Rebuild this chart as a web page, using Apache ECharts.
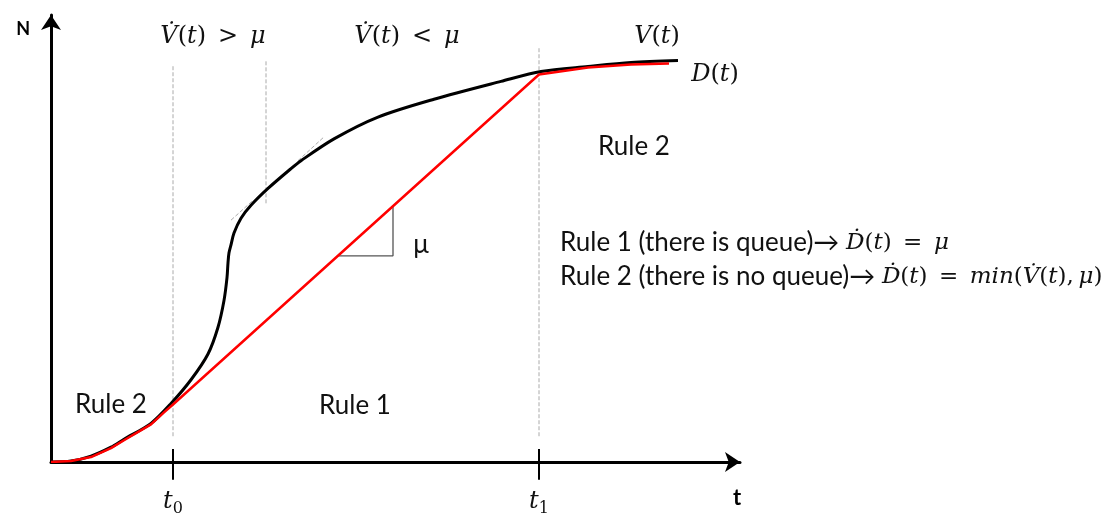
<!DOCTYPE html>
<html><head><meta charset="utf-8">
<script src="https://cdn.jsdelivr.net/npm/echarts@6/dist/echarts.min.js"></script>
<style>html,body{margin:0;padding:0;background:#fff}#c{width:1108px;height:517px}</style>
</head><body><div id="c"></div>
<script>
// ---- data (x = time units, y = cumulative count N) ----
var arrivalsV = [[0,0],[20,1],[40,6],[60,15],[73,23],[100,39],[120,59],[140,83],[157,109],[167,136],[173,163],[176,186],[177,201],[178,211],[180,219],[183,231],[190,246],[200,259],[217,276],[240,296],[250,304],[283,326],[327,348],[383,366],[450,384],[490,394],[537,399],[580,403],[627,405]];
var departuresD = [[0,0],[20,1],[40,5],[60,14],[73,22],[100,38],[113,50],[122,58],[488,391],[537,398],[580,401],[618,402]];
var slopeTriangle = [[287,208],[342,208],[342,258]];
var tangent1 = [[180,244],[202,264]];
var tangent2 = [[247,304],[273,328]];
var tickValues = [122, 488];
var tickLabels = [['t','0'],['t','1']];
var guide1 = [[122,26],[122,401]];
var guide2 = [[215,261],[215,406]];
var guide3 = [[488,26],[488,419]];
var tick0 = [[122,-18],[122,13]];
var tick1 = [[488,-18],[488,13]];
var axisNames = ['t','N'];
var headerTexts = ['V\u0307(t)\u2002>\u2002μ', 'V\u0307(t)\u2002<\u2002μ'];
var curveLabels = ['V(t)', 'D(t)'];
var regionLabels = ['Rule 2', 'Rule 2', 'Rule 1', 'μ'];
var ruleTexts = [['Rule 1 (there is queue)\u2192 ', 'D\u0307(t)\u2002=\u2002μ'], ['Rule 2 (there is no queue)\u2192 ', 'D\u0307(t)\u2002=\u2002min(V\u0307(t),\u2009μ)']];

var SANS = 'Lato, "Open Sans", sans-serif';
var SERIF = '"DejaVu Serif", "Liberation Serif", serif';
function math(s){
  var out=''; var re=/([A-Za-zμ\u0307]+)|([^A-Za-zμ\u0307]+)/g; var m;
  while((m=re.exec(s))){ if(m[1]) out+='{mi|'+m[1]+'}'; else out+='{mr|'+m[2]+'}'; }
  return out;
}
function mathRich(size,color,sans){
  return {mi:{fontFamily:SERIF,fontStyle:'italic',fontSize:size,color:color},
          mr:{fontFamily:SERIF,fontSize:size,color:color},
          s:{fontFamily:SANS,fontSize:sans||26,color:'#111'}};
}
function txt(text,x,y,opt){
  opt=opt||{};
  return {type:'text',x:x,y:y,z:10,style:{text:text,align:opt.align||'center',verticalAlign:'middle',
    fontFamily:opt.font||SANS,fontSize:opt.size||26,fill:opt.color||'#111',rich:opt.rich}};
}
var gl = {type:'dashed',color:'#aaa',width:1};
function seg(data,style){return {type:'line',data:data,symbol:'none',clip:false,silent:true,lineStyle:style,z:1};}

var chart = echarts.init(document.getElementById('c'));
chart.setOption({
  animation:false,
  grid:{left:51,top:15,width:689,height:451,containLabel:false},
  xAxis:{type:'value',min:0,max:689,
    name:axisNames[0],nameLocation:'end',nameGap:-7,
    nameTextStyle:{fontFamily:SANS,fontWeight:'bold',fontSize:22,color:'#000',verticalAlign:'top',padding:[25,0,0,0]},
    axisLine:{show:true,lineStyle:{color:'#000',width:3},symbol:['none','arrow'],symbolSize:[15,15]},
    axisTick:{show:false},splitLine:{show:false},
    axisLabel:{customValues:tickValues,margin:25,
      formatter:function(v){var i=tickValues.indexOf(v);return i<0?'':'{t|'+tickLabels[i][0]+'}{s|'+tickLabels[i][1]+'}';},
      rich:{t:{fontFamily:SERIF,fontStyle:'italic',fontSize:24,color:'#111'},
            s:{fontFamily:SERIF,fontSize:16,color:'#111',verticalAlign:'bottom',padding:[14,0,0,0]}}}
  },
  yAxis:{type:'value',min:0,max:451,
    name:axisNames[1],nameLocation:'end',nameGap:-23,
    nameTextStyle:{fontFamily:SANS,fontWeight:'bold',fontSize:18,color:'#000',align:'right',padding:[0,21,0,0]},
    axisLine:{show:true,lineStyle:{color:'#000',width:3},symbol:['none','arrow'],symbolSize:[15,15]},
    axisTick:{show:false},splitLine:{show:false},axisLabel:{show:false}
  },
  series:[
    seg(guide1,gl),seg(guide2,gl),seg(guide3,gl),
    seg(tangent1,gl),seg(tangent2,gl),
    seg(tick0,{color:'#000',width:2}),seg(tick1,{color:'#000',width:2}),
    seg(slopeTriangle,{color:'#555',width:1.3}),
    {type:'line',data:arrivalsV,symbol:'none',smooth:0.3,lineStyle:{color:'#000',width:3},z:3},
    {type:'line',data:departuresD,symbol:'none',smooth:false,lineStyle:{color:'#ff0000',width:2.5,join:'round'},z:4}
  ],
  graphic:[
    txt(math(headerTexts[0]),213,37,{rich:mathRich(24,'#111')}),
    txt(math(headerTexts[1]),407,37,{rich:mathRich(24,'#111')}),
    txt(math(curveLabels[0]),657,37,{rich:mathRich(24,'#111')}),
    txt(math(curveLabels[1]),715,75,{rich:mathRich(24,'#ff0000')}),
    txt(regionLabels[0],634,147),
    txt(regionLabels[1],111,405),
    txt(regionLabels[2],355,406),
    txt(regionLabels[3],421,245),
    txt('{s|'+ruleTexts[0][0]+'}'+math(ruleTexts[0][1]),560,243,{align:'left',rich:mathRich(23,'#111',26)}),
    txt('{s|'+ruleTexts[1][0]+'}'+math(ruleTexts[1][1]),560,277,{align:'left',rich:mathRich(23,'#111',26)})
  ]
});
</script></body></html>
